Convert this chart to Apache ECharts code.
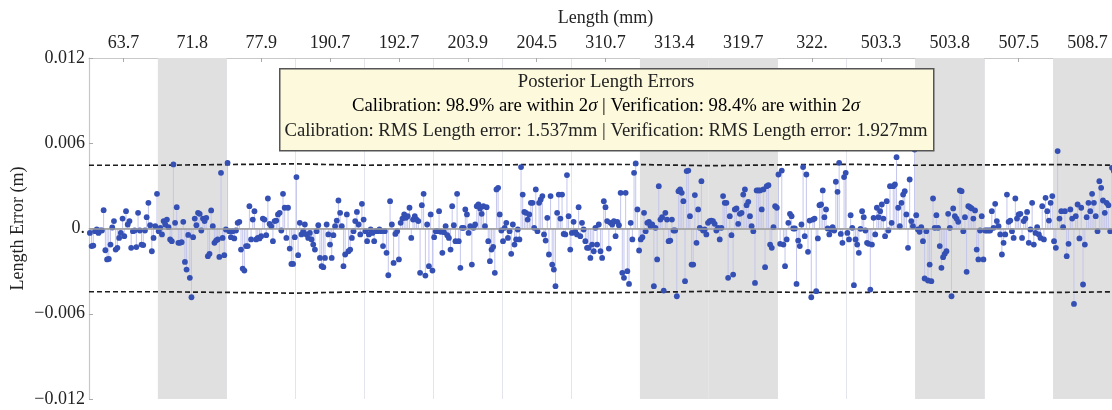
<!DOCTYPE html>
<html><head><meta charset="utf-8">
<script src="https://cdn.jsdelivr.net/npm/echarts@6/dist/echarts.min.js"></script>
<style>html,body{margin:0;padding:0;background:#fff}#c{width:1112px;height:410px}</style>
</head><body><div id="c"></div>
<script>
// Category (length) labels on the top axis
const categories = ['63.7','71.8','77.9','190.7','192.7','203.9','204.5','310.7','313.4','319.7','322.','503.3','503.8','507.5','508.7'];
// shaded (grey) categories
const shadedCats = [1, 8, 9, 12, 14];
// 2-sigma band per category (mm)
const sigma2Mm = [4.45,4.50,4.55,4.45,4.50,4.48,4.52,4.50,4.42,4.48,4.52,4.45,4.48,4.50,4.45];
// y tick labels (metres)
const yTickLabels = ['\u22120.012','\u22120.006','0.','0.006','0.012'];

// Length errors per category, in mm
const err_63_7 = [-0.31,-1.24,-1.20,-0.19,-0.07,-0.31,-0.14,-0.14,1.29,-1.53,-2.18,-2.14,-1.13,0.07,0.52,-1.48,-1.36,-0.66,-0.31,0.70,-0.54,1.22,0.28,0.52,-1.36,-0.19,-0.14,-1.31,1.10,-0.14,-1.13,-1.17,-0.14,0.80,1.81,0.23,-1.60,-0.66,0.16,2.44];
const err_71_8 = [-0.19,0.05,-0.42,0.52,0.28,0.63,0.09,-0.77,-0.89,4.51,0.40,1.50,-1.01,-1.01,-0.96,0.47,-2.35,-2.89,-0.45,-3.47,-4.84,-0.61,0.70,0.23,1.10,1.03,-0.14,0.70,0.52,0.75,-1.95,-1.78,1.27,0.16,-1.01,-0.85,-0.77,-2.00,3.92,-0.66,-1.88,-0.07];
const err_77_9 = [4.62,-0.19,-0.61,-0.19,-0.70,-0.14,0.40,0.47,-1.48,-2.82,-2.96,-1.24,-1.24,1.57,-0.77,0.63,1.22,-0.77,-0.66,-0.70,-0.54,0.70,0.63,-0.47,2.11,0.33,0.16,-0.89,0.52,0.56,0.99,1.10,-0.14,2.44,1.46,-0.66,1.46,-1.41,-2.49,-2.49,-0.61];
const err_190_7 = [3.62,-1.88,0.40,-0.42,-0.19,0.28,-0.42,-0.66,-0.31,-0.77,-1.13,-1.48,-0.19,0.23,-2.07,-2.65,-2.72,-2.07,0.28,-0.42,-1.13,-2.07,-0.47,0.16,0.56,1.97,1.10,0.16,-2.65,-1.83,0.99,-1.60,-1.48,-0.66,-0.19,0.52,1.17,0.28,-0.42,1.74,0.63];
const err_192_7 = [-0.19,-0.89,-0.42,-0.07,-0.31,-0.89,-0.19,-0.19,-0.07,-0.19,-1.24,-0.19,-1.71,-3.29,1.92,0.28,-2.42,-0.38,-0.19,-2.18,0.40,0.70,0.99,0.75,0.87,1.46,-0.66,0.63,0.87,0.63,0.52,-3.12,1.64,2.44,-3.31,0.28,-2.65,0.99,-2.96];
const err_203_9 = [-0.61,-0.19,-0.19,1.22,-0.23,-1.71,-0.26,0.16,-0.47,-0.66,-1.48,1.57,0.23,-0.89,2.44,-0.89,-2.77,0.05,0.05,1.34,0.99,-0.31,0.16,-2.54,0.05,0.28,1.57,1.69,1.41,1.03,1.57,0.16,1.50,-0.89,-2.30,-1.48,-1.29,-3.12,2.75,2.86,0.99,-0.14];
const err_204_5 = [-0.89,0.05,0.40,-0.66,-0.19,-1.78,0.28,-1.13,-0.77,-0.07,-0.77,4.32,2.39,1.17,1.10,0.63,0.99,1.81,1.81,0.05,2.75,-0.19,1.81,2.04,2.28,-0.42,-0.85,0.75,-1.83,2.28,-2.54,-2.89,-4.06,1.10,2.39,0.70,2.39,-0.38,-0.42,3.76,0.87,-1.48];
const err_310_7 = [-0.31,0.47,-0.23,-0.42,1.50,-0.54,0.40,-0.07,-0.89,-1.36,-1.36,-2.07,-1.13,-1.60,0.05,-1.13,0.28,-1.60,-2.07,1.92,1.50,0.52,-1.41,0.40,0.28,0.52,-0.54,0.47,0.23,2.51,-3.12,-3.47,2.51,-3.00,-3.90,0.40,-0.77,3.92,4.58,1.34,-1.55];
const err_313_4 = [-0.77,-0.61,1.10,-0.19,0.40,0.47,0.16,0.28,-4.06,0.05,-2.18,2.98,0.63,0.80,-4.37,1.10,0.63,-0.89,-0.85,0.63,-0.14,-0.14,-4.77,2.63,2.75,2.51,1.92,-3.71,4.04,4.08,0.87,-2.54,-2.54,2.35,-1.01,1.34,0.05,3.33,-0.14,-0.07,-0.42,0.40];
const err_319_7 = [0.52,0.56,0.52,0.33,-0.14,0.05,-0.77,0.05,2.28,1.81,1.81,-3.47,0.87,-0.47,-3.24,1.34,1.41,0.33,1.03,1.10,2.39,2.75,1.64,1.88,0.87,0.16,-0.19,-3.83,2.68,2.68,2.68,1.34,2.75,-2.72,2.98,3.05,-1.13,-1.36,0.09,1.57,1.46];
const err_322 = [3.80,-1.08,4.08,-1.13,-2.65,-0.77,0.40,1.03,0.87,0.00,0.00,-3.90,-0.85,-1.24,0.28,4.32,-0.54,3.80,-1.64,0.56,-4.84,0.63,0.70,-4.41,-0.70,1.64,1.69,2.68,0.80,1.34,0.00,-0.42,-0.07,0.09,-0.14,3.29,2.58,4.62,-0.38,-1.01,3.62,3.92];
const err_503_3 = [-0.31,-0.77,0.94,0.05,-3.99,-0.77,-1.13,-1.71,-0.02,1.22,0.80,-0.14,-1.01,-1.08,-4.30,-1.13,0.75,-0.42,1.46,0.80,1.22,1.69,0.70,-0.54,1.92,-0.14,2.98,0.40,2.98,3.10,5.02,1.46,0.16,1.81,2.39,2.63,0.99,-1.36,3.45,0.52,0.16,5.56];
const err_503_8 = [0.94,-0.07,-0.23,0.09,-0.89,-3.52,-0.19,-3.66,-2.54,-3.71,2.11,0.05,0.94,0.05,-1.24,-2.77,-2.02,-1.78,-1.60,1.03,0.05,-4.77,1.41,0.87,0.70,0.47,2.68,2.63,-0.19,0.80,-3.05,1.57,1.50,1.41,0.70,1.27,-1.48,-2.18,-0.14,0.87,-2.18];
const err_507_5 = [-0.14,-0.14,-0.14,-0.14,1.22,0.05,1.74,0.52,0.16,-0.42,-1.83,-1.01,-0.42,2.39,0.47,0.56,-0.19,-0.66,2.11,0.70,0.99,1.03,-0.66,0.52,0.70,1.17,-1.01,-0.07,1.81,-1.13,-0.31,0.09,-0.42,-0.66,1.57,-0.77,2.16,1.22,0.56,1.81,2.28];
const err_508_7 = [-0.89,-1.36,5.45,0.70,1.22,0.09,1.22,-1.95,-1.08,1.34,0.70,-5.31,0.87,1.69,-0.70,1.46,-3.94,-1.13,0.80,1.81,1.22,2.44,1.81,0.87,-0.19,3.33,2.86,1.97,1.10,1.81,1.64,-0.19,4.27,4.04,-0.77,0.28,1.10,0.75];

const errByCategory = [err_63_7,err_71_8,err_77_9,err_190_7,err_192_7,err_203_9,err_204_5,err_310_7,err_313_4,err_319_7,err_322,err_503_3,err_503_8,err_507_5,err_508_7];

// build point list: x = category index + position within category
const points = [];
errByCategory.forEach((arr, c) => {
  const n = arr.length;
  arr.forEach((v, i) => points.push([c + (i + 0.5) / n, v]));
});
const upper = [], lower = [];
sigma2Mm.forEach((s, c) => {
  upper.push([c, s], [c + 1, s]);
  lower.push([c, -s], [c + 1, -s]);
});
const bands = shadedCats.map(c => [{xAxis: c}, {xAxis: c + 1}]);

const serif = '"Liberation Serif", "DejaVu Serif", serif';
const chart = echarts.init(document.getElementById('c'), null, {renderer: 'canvas'});
chart.setOption({
  animation: false,
  backgroundColor: '#fff',
  grid: {left: 89, right: -10, top: 58, bottom: 11, containLabel: false, outerBoundsMode: 'none'},
  xAxis: [{
    type: 'value', min: 0, max: categories.length, interval: 1, position: 'bottom',
    axisLine: {show: true, lineStyle: {color: '#c8c8c8', width: 1.2}},
    axisTick: {show: false}, axisLabel: {show: false},
    splitLine: {show: true, lineStyle: {color: '#e4e4ec', width: 1}}
  }, {
    type: 'category', data: categories, position: 'top', boundaryGap: true,
    name: 'Length (mm)', nameLocation: 'middle', nameGap: 31, nameMoveOverlap: false,
    nameTextStyle: {fontFamily: serif, fontSize: 18, color: '#222'},
    axisLine: {show: true, lineStyle: {color: '#c8c8c8', width: 1.2}},
    axisTick: {show: true, alignWithLabel: true, inside: true, length: 4, lineStyle: {color: '#aaa'}},
    axisLabel: {fontFamily: serif, fontSize: 18, color: '#222', margin: 6},
    splitLine: {show: false}
  }],
  yAxis: {
    type: 'value', min: -12, max: 12, interval: 6,
    name: 'Length Error (m)', nameLocation: 'middle', nameGap: 62, nameMoveOverlap: false,
    nameTextStyle: {fontFamily: serif, fontSize: 18, color: '#222'},
    axisLine: {show: true, lineStyle: {color: '#c8c8c8', width: 1.2}},
    axisTick: {show: true, inside: true, length: 4, lineStyle: {color: '#aaa'}},
    axisLabel: {fontFamily: serif, fontSize: 18, color: '#222', margin: 4,
      formatter: v => yTickLabels[Math.round((v + 12) / 6)]},
    splitLine: {show: false}
  },
  series: [{
    type: 'line', data: [], z: 1, silent: true,
    markArea: {silent: true, itemStyle: {color: '#e0e0e0'}, data: bands},
    markLine: {silent: true, symbol: 'none', label: {show: false},
      lineStyle: {color: '#9a9a9a', width: 1.5, type: 'solid'}, data: [{yAxis: 0}]}
  }, {
    type: 'custom', z: 2, silent: true, data: points,
    renderItem: (params, api) => {
      const p0 = api.coord([api.value(0), 0]);
      const p1 = api.coord([api.value(0), api.value(1)]);
      return {type: 'line', shape: {x1: p0[0], y1: p0[1], x2: p1[0], y2: p1[1]},
        style: {stroke: '#c4c6ec', lineWidth: 1}};
    }
  }, {
    type: 'line', data: upper, z: 3, symbol: 'none', silent: true,
    lineStyle: {color: '#1e1e1e', width: 1.7, type: [5, 3]}
  }, {
    type: 'line', data: lower, z: 3, symbol: 'none', silent: true,
    lineStyle: {color: '#1e1e1e', width: 1.7, type: [5, 3]}
  }, {
    type: 'scatter', data: points, z: 4, symbol: 'circle', symbolSize: 5.8,
    itemStyle: {color: '#3550b4', opacity: 1}
  }],
  graphic: [{
    type: 'rect', left: 279, top: 68, z: 100, zlevel: 1,
    shape: {width: 654, height: 82},
    style: {fill: '#fcf9dc', stroke: '#555', lineWidth: 1.5}
  }, {
    type: 'text', x: 606, y: 82, z: 101, zlevel: 1,
    style: {text: 'Posterior Length Errors', font: '18.7px ' + serif, fill: '#222', align: 'center', verticalAlign: 'middle'}
  }, {
    type: 'text', x: 606, y: 106, z: 101, zlevel: 1,
    style: {
      text: '{n|Calibration: 98.9% are within 2}{i|\u03c3}{n| | Verification: 98.4% are within 2}{i|\u03c3}',
      align: 'center', verticalAlign: 'middle',
      rich: {n: {fontFamily: serif, fontSize: 18.7, color: '#222'},
             i: {fontFamily: serif, fontSize: 18.7, fontStyle: 'italic', color: '#222'}}
    }
  }, {
    type: 'text', x: 606, y: 131, z: 101, zlevel: 1,
    style: {text: 'Calibration: RMS Length error: 1.537mm | Verification: RMS Length error: 1.927mm',
      font: '18.7px ' + serif, fill: '#222', align: 'center', verticalAlign: 'middle'}
  }]
});
</script>
</body></html>
